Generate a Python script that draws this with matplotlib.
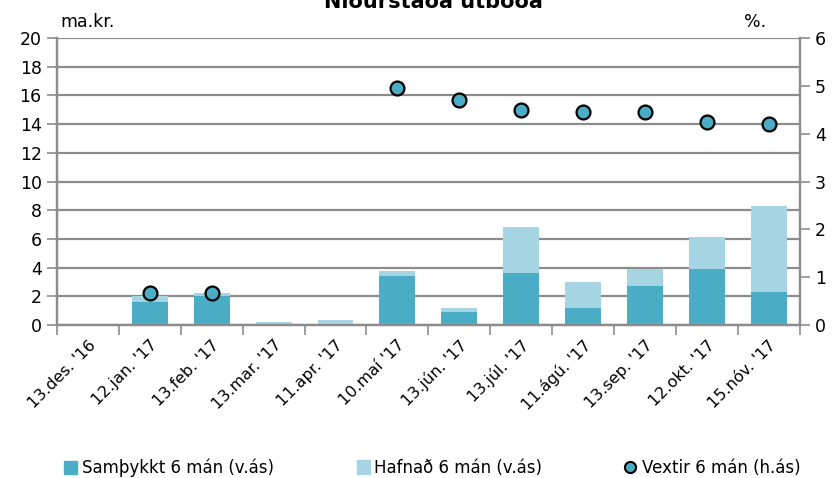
import matplotlib
matplotlib.use('agg')
import matplotlib.pyplot as plt
from matplotlib.lines import Line2D
from matplotlib.patches import Patch
import numpy as np

plt.rcParams['font.family'] = ['DejaVu Sans']

dates = ["13.des. '16", "12.jan. '17", "13.feb. '17", "13.mar. '17", "11.apr. '17",
         "10.maí '17", "13.jún. '17", "13.júl. '17", "11.ágú. '17", "13.sep. '17",
         "12.okt. '17", "15.nóv. '17"]
accepted = [0, 1.6, 2.0, 0, 0, 3.4, 0.9, 3.6, 1.2, 2.7, 3.9, 2.3]
rejected = [0, 0.4, 0.2, 0.2, 0.35, 0.4, 0.3, 3.2, 1.8, 1.2, 2.2, 6.0]
rates = [np.nan, 0.66, 0.66, np.nan, np.nan, 4.95, 4.71, 4.50, 4.46, 4.46, 4.25, 4.21]

c_dark = '#4bacc6'
c_light = '#a5d5e2'
grid_c = '#8c8c8c'

fig = plt.figure(figsize=(8.33, 4.78), dpi=100)
ax = fig.add_axes([0.0684, 0.320, 0.8916, 0.6005])
ax2 = ax.twinx()

x = np.arange(len(dates))
ax.bar(x, accepted, width=0.58, color=c_dark, zorder=3)
ax.bar(x, rejected, width=0.58, bottom=accepted, color=c_light, zorder=3)
ax2.plot(x, rates, 'o', ms=10, mfc=c_dark, mec='black', mew=1.6, zorder=4)

ax.set_xlim(-0.5, len(dates) - 0.5)
ax.set_ylim(0, 20)
ax.set_yticks(range(0, 21, 2))
ax2.set_ylim(0, 6)
ax2.set_yticks(range(0, 7))
ax.yaxis.grid(True, color=grid_c, lw=1.6, zorder=0)
ax.set_axisbelow(True)

ax.set_xticks(x)
ax.set_xticklabels(dates, rotation=45, ha='right', rotation_mode='anchor', fontsize=11.5)
ax.set_xticks(np.arange(-0.5, len(dates), 1), minor=True)
ax.tick_params(axis='x', which='major', length=0, pad=9)
ax.tick_params(axis='x', which='minor', length=7, color=grid_c, width=1.2)
ax.tick_params(axis='y', labelsize=12.5, length=7, color=grid_c, width=1.2, pad=4)
ax2.tick_params(axis='y', labelsize=12.5, length=7, color=grid_c, width=1.2, pad=4)

for a in (ax, ax2):
    a.spines['top'].set_visible(False)
    for s in ('left', 'right', 'bottom'):
        a.spines[s].set_color(grid_c)
        a.spines[s].set_linewidth(1.6)

fig.text(0.52, 0.983, 'Niðurstaða útboða', ha='center', va='baseline',
         fontsize=15, fontweight='bold')
fig.text(0.072, 0.943, 'ma.kr.', ha='left', va='baseline', fontsize=12.5)
fig.text(0.893, 0.943, '%.', ha='left', va='baseline', fontsize=12.5)

handles = [Patch(color=c_dark), Patch(color=c_light),
           Line2D([], [], ls='none', marker='o', ms=8, mfc=c_dark, mec='black', mew=1.5)]
labels = ['Samþykkt 6 mán (v.ás)', 'Hafnað 6 mán (v.ás)', 'Vextir 6 mán (h.ás)']
xpos = [64, 357, 624]
for h, lab, xp in zip(handles, labels, xpos):
    fig.legend([h], [lab], loc='center left', bbox_to_anchor=(xp / 833, 1 - 468 / 478),
               frameon=False, fontsize=12, handlelength=0.75, handleheight=0.9,
               handletextpad=0.3, borderpad=0, borderaxespad=0)

fig.savefig('out.png', dpi=100)
